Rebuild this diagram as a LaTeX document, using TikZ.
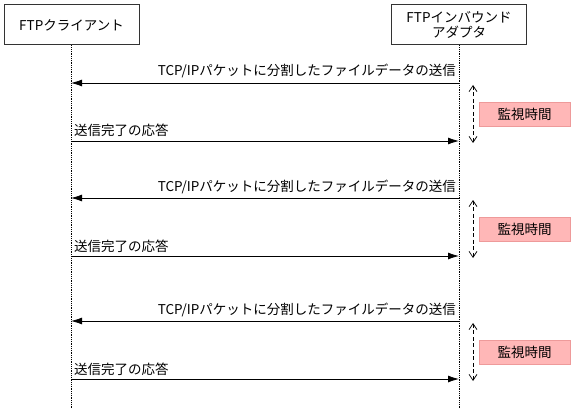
\documentclass[tikz,border=0pt]{standalone}
\usepackage{fontspec}
\setmainfont{Noto Sans CJK JP}
\usetikzlibrary{arrows.meta}
\definecolor{pinkfill}{HTML}{FFB7B7}
\definecolor{pinkline}{HTML}{EE9A9A}
\begin{document}
\begin{tikzpicture}[x=1pt,y=-1pt,
  every node/.style={font=\fontsize{13.5}{15}\selectfont, inner sep=0pt},
  actor/.style={draw=black!80, line width=1pt, minimum width=135pt, minimum height=40pt, align=center, fill=white},
  lifeline/.style={densely dotted, line width=0.8pt},
  msg/.style={line width=0.8pt, -{Latex[length=11pt,width=7pt]}},
  timing/.style={dash pattern=on 4pt off 2.5pt, line width=0.7pt, {Straight Barb[length=6pt,width=8pt]}-{Straight Barb[length=6pt,width=8pt]}},
  mon/.style={draw=pinkline, fill=pinkfill, line width=0.8pt, minimum width=91pt, minimum height=24pt},
  lbl/.style={anchor=base}
]
\useasboundingbox (0,0) rectangle (573,409);
\fill[white] (0,0) rectangle (573,409);
% actors
\node[actor] (client) at (71.5,25) {FTPクライアント};
\node[actor, text width=130pt] (adapter) at (459,25) {\baselineskip=16pt FTPインバウンド\\アダプタ};
\coordinate (cend) at (71,409);
\coordinate (aend) at (459,409);
\draw[lifeline] (client.south -| cend) -- (cend);
\draw[lifeline] (adapter.south -| aend) -- (aend);
% messages
\foreach \i/\ys/\yr in {1/83/141, 2/198/256, 3/321/379} {
  \coordinate (as\i) at (459,\ys);
  \coordinate (cs\i) at (71,\ys);
  \coordinate (cr\i) at (71,\yr);
  \coordinate (ar\i) at (459,\yr);
  \draw[msg] (as\i) -- (cs\i);
  \node[anchor=base east] (ls\i) at (456,\ys-7) {TCP/IPパケットに分割したファイルデータの送信};
  \draw[msg] (cr\i) -- (ar\i);
  \node[anchor=base west] (lr\i) at (74,\yr-5) {送信完了の応答};
  \coordinate (tt\i) at (473,\ys+2);
  \coordinate (tb\i) at (473,\yr+2);
  \draw[timing] (tt\i) -- (tb\i);
  \node[mon] (m\i) at (524.5,\ys+31) {監視時間};
}
\end{tikzpicture}
\end{document}
